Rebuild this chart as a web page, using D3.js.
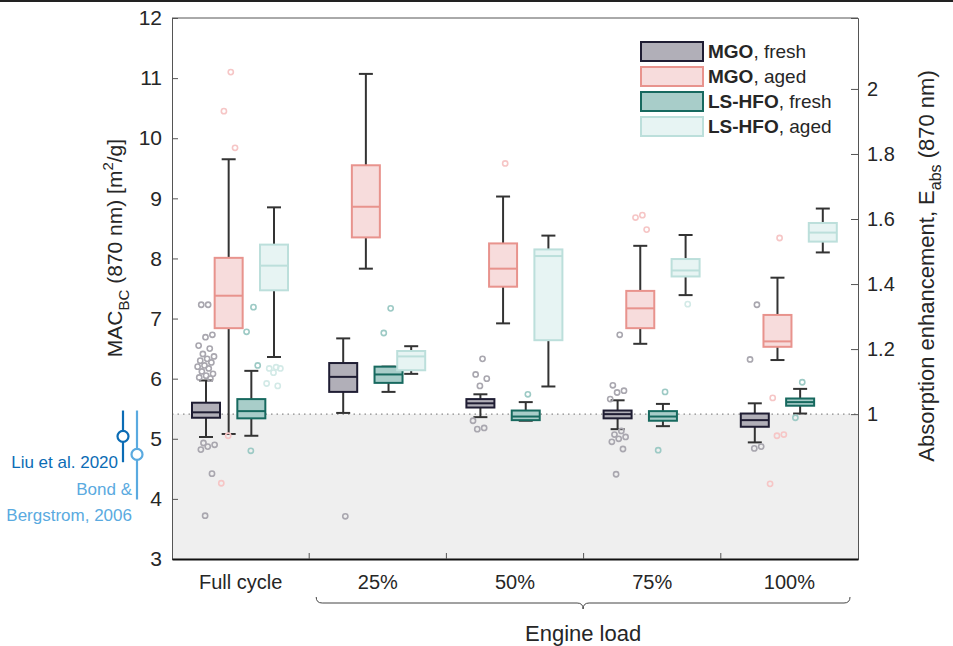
<!DOCTYPE html>
<html>
  <head>
    <style>
    body { margin: 0; background: #fff; }
    text { font-family: "Liberation Sans", Arial, sans-serif; fill: #262626; }
    </style>
  </head>
  <body>

    <svg width="953" height="646"></svg>

    <script src="https://cdn.jsdelivr.net/npm/d3@7"></script>
    <script>

      // categories
      const groups = ['Full cycle', '25%', '50%', '75%', '100%']
      const fuels = ['MGO', 'MGO', 'LS-HFO', 'LS-HFO']
      const states = ['fresh', 'aged', 'fresh', 'aged']

      // box stats per group: [whisker low, q1, median, q3, whisker high]
      const mgoFresh = [
        [5.03, 5.35, 5.44, 5.60, 5.97],
        [5.43, 5.78, 6.03, 6.26, 6.67],
        [5.36, 5.52, 5.59, 5.66, 5.74],
        [5.16, 5.34, 5.41, 5.47, 5.64],
        [4.94, 5.20, 5.31, 5.42, 5.59]
      ]
      const mgoAged = [
        [5.08, 6.84, 7.38, 8.01, 9.65],
        [7.83, 8.35, 8.86, 9.55, 11.07],
        [6.92, 7.53, 7.83, 8.25, 9.03],
        [6.58, 6.84, 7.17, 7.46, 8.21],
        [6.31, 6.53, 6.62, 7.06, 7.68]
      ]
      const hfoFresh = [
        [5.05, 5.34, 5.46, 5.66, 6.13],
        [5.78, 5.93, 6.07, 6.20, 6.20],
        [5.30, 5.31, 5.37, 5.47, 5.61],
        [5.21, 5.30, 5.37, 5.46, 5.58],
        [5.42, 5.55, 5.61, 5.67, 5.83]
      ]
      const hfoAged = [
        [6.36, 7.47, 7.88, 8.23, 8.85],
        [6.08, 6.14, 6.37, 6.46, 6.54],
        [5.87, 6.64, 8.04, 8.15, 8.38],
        [7.39, 7.70, 7.80, 7.99, 8.39],
        [8.10, 8.28, 8.43, 8.59, 8.83]
      ]

      // outliers per group
      const mgoFreshOut = [
        [7.23, 7.23, 6.73, 6.69, 6.55, 6.50, 6.41, 6.37, 6.33, 6.30, 6.27, 6.22, 6.20, 6.17, 6.12, 6.08, 6.05, 6.02, 6.00, 4.93, 4.90, 4.87, 4.82, 4.42, 3.72],
        [3.71],
        [6.33, 6.07, 6.00, 5.88, 5.30, 5.18, 5.16],
        [6.73, 5.89, 5.80, 5.77, 5.66, 5.13, 5.07, 5.03, 5.00, 4.95, 4.83, 4.41],
        [7.23, 6.32, 4.87, 4.84]
      ]
      const mgoAgedOut = [
        [11.10, 10.45, 9.84, 5.05, 4.26],
        [],
        [9.58],
        [8.72, 8.68, 8.48],
        [8.34, 5.68, 5.07, 5.05, 4.25]
      ]
      const hfoFreshOut = [
        [7.19, 6.78, 6.22, 4.80],
        [7.17, 6.76],
        [5.74],
        [5.78, 4.81],
        [5.94, 5.35]
      ]
      const hfoAgedOut = [
        [6.19, 6.17, 6.17, 6.10, 5.92, 5.88],
        [],
        [],
        [7.24],
        []
      ]

      // literature values: [low, centre, high]
      const liu2020 = [4.61, 5.04, 5.47]
      const bond2006 = [3.99, 4.74, 5.47]

      const yTicks = [3, 4, 5, 6, 7, 8, 9, 10, 11, 12]
      const eTicks = [1, 1.2, 1.4, 1.6, 1.8, 2]
      const eRef = 5.41

      const stroke = ['#1f1d33', '#e8938d', '#17695f', '#bcdfdb']
      const fill = ['#b1afb8', '#f7dcdc', '#a8cdc9', '#e7f4f3']
      const outColor = ['#a9a7af', '#f6c6c6', '#9dcac5', '#d3eae7']

      const svg = d3.select('svg')
      const margin = {top: 18, right: 95, bottom: 87, left: 172}
      const width = +svg.attr('width') - margin.left - margin.right
      const height = +svg.attr('height') - margin.top - margin.bottom

      const boxStats = [mgoFresh, mgoAged, hfoFresh, hfoAged]
      const outliers = [mgoFreshOut, mgoAgedOut, hfoFreshOut, hfoAgedOut]

      const x = d3.scaleBand().domain(groups).range([0, width])
      const inner = d3.scaleLinear().domain([0, 3]).range([34, 102])
      const y = d3.scaleLinear().domain([3, 12]).range([height, 0])
      const y2 = d3.scaleLinear().domain([3 / eRef, 12 / eRef]).range([height, 0])
      const boxW = 28

      // top rule of the page
      svg.append('line')
        .attr('x1', 0).attr('x2', 953).attr('y1', 1).attr('y2', 1)
        .attr('stroke', '#222').attr('stroke-width', 2)

      const chart = svg.append('g')
        .attr('transform', 'translate(' + margin.left + ',' + margin.top + ')')

      // shaded region below Eabs = 1
      chart.append('rect')
        .attr('x', 0).attr('y', y(eRef))
        .attr('width', width).attr('height', height - y(eRef))
        .attr('fill', '#efefef')
      chart.append('line')
        .attr('x1', 0).attr('x2', width)
        .attr('y1', y(eRef)).attr('y2', y(eRef))
        .attr('stroke', '#8a8a8a').attr('stroke-width', 1.4)
        .attr('stroke-dasharray', '1.5,4')

      // boxes
      boxStats.forEach((stats, s) => {
        groups.forEach((g, gi) => {
          const [lo, q1, med, q3, hi] = stats[gi]
          const cx = x(g) + inner(s)
          const b = chart.append('g')
          b.append('line').attr('x1', cx).attr('x2', cx).attr('y1', y(q3)).attr('y2', y(hi))
            .attr('stroke', '#333').attr('stroke-width', 2)
          b.append('line').attr('x1', cx).attr('x2', cx).attr('y1', y(q1)).attr('y2', y(lo))
            .attr('stroke', '#333').attr('stroke-width', 2)
          ;[lo, hi].forEach(v => {
            b.append('line').attr('x1', cx - boxW / 4).attr('x2', cx + boxW / 4)
              .attr('y1', y(v)).attr('y2', y(v))
              .attr('stroke', '#333').attr('stroke-width', 2)
          })
          b.append('rect')
            .attr('x', cx - boxW / 2).attr('y', y(q3))
            .attr('width', boxW).attr('height', y(q1) - y(q3))
            .attr('fill', fill[s]).attr('stroke', stroke[s]).attr('stroke-width', 2)
          b.append('line').attr('x1', cx - boxW / 2).attr('x2', cx + boxW / 2)
            .attr('y1', y(med)).attr('y2', y(med))
            .attr('stroke', stroke[s]).attr('stroke-width', 2)
        })
      })

      // outliers, small deterministic jitter
      outliers.forEach((list, s) => {
        groups.forEach((g, gi) => {
          const cx = x(g) + inner(s)
          chart.selectAll(null)
            .data(list[gi])
            .enter().append('circle')
              .attr('cx', (d, i) => cx + (((i + 1) * 0.618034) % 1 - 0.5) * 18)
              .attr('cy', d => y(d))
              .attr('r', 2.6)
              .attr('fill', 'none')
              .attr('stroke', outColor[s])
              .attr('stroke-width', 1.6)
        })
      })

      // axes
      const leftAxis = chart.append('g')
        .call(d3.axisLeft(y).tickValues(yTicks).tickSize(-6).tickPadding(10))
      leftAxis.selectAll('text').style('font-size', '21px')
      leftAxis.select('.domain').attr('stroke', '#555')
      leftAxis.selectAll('.tick line').attr('stroke', '#555')

      const rightAxis = chart.append('g')
        .attr('transform', 'translate(' + width + ',0)')
        .call(d3.axisRight(y2).tickValues(eTicks).tickFormat(d3.format('~g')).tickSize(-7).tickPadding(9))
      rightAxis.selectAll('text').style('font-size', '20px')
      rightAxis.select('.domain').attr('stroke', '#555')
      rightAxis.selectAll('.tick line').attr('stroke', '#555')

      chart.append('line')
        .attr('x1', 0).attr('x2', width).attr('y1', 0).attr('y2', 0)
        .attr('stroke', '#555').attr('stroke-width', 1)

      const bottomAxis = chart.append('g')
        .attr('transform', 'translate(0,' + height + ')')
        .call(d3.axisBottom(x).tickSize(0).tickPadding(16))
      bottomAxis.selectAll('text').style('font-size', '20px')
      bottomAxis.select('.domain').attr('stroke', '#111').attr('stroke-width', 2.2)
      groups.slice(1).forEach(g => {
        bottomAxis.append('line')
          .attr('x1', x(g)).attr('x2', x(g)).attr('y1', 0).attr('y2', -6)
          .attr('stroke', '#555')
      })

      // brace under engine loads
      const bx0 = x('25%') + 7, bx1 = width - 8, bmid = (bx0 + bx1) / 2
      const by = height + 38
      chart.append('path')
        .attr('d', 'M' + bx0 + ',' + by + ' q0,6 6,6 L' + (bmid - 6) + ',' + (by + 6) +
          ' q6,0 6,6 q0,-6 6,-6 L' + (bx1 - 6) + ',' + (by + 6) + ' q6,0 6,-6')
        .attr('fill', 'none').attr('stroke', '#444').attr('stroke-width', 1)
      chart.append('text')
        .attr('x', bmid).attr('y', height + 82)
        .attr('text-anchor', 'middle')
        .style('font-size', '22px')
        .text('Engine load')

      // axis titles
      const yl = svg.append('text')
        .attr('transform', 'translate(122,248) rotate(-90)')
        .attr('text-anchor', 'middle')
        .style('font-size', '21px')
      yl.append('tspan').text('MAC')
      yl.append('tspan').attr('dy', 7).style('font-size', '15px').text('BC')
      yl.append('tspan').attr('dy', -7).text(' (870 nm) [m')
      yl.append('tspan').attr('dy', -9).style('font-size', '15px').text('2')
      yl.append('tspan').attr('dy', 9).text('/g]')

      const yr = svg.append('text')
        .attr('transform', 'translate(934,266) rotate(-90)')
        .attr('text-anchor', 'middle')
        .style('font-size', '22px')
      yr.append('tspan').text('Absorption enhancement, E')
      yr.append('tspan').attr('dy', 7).style('font-size', '16px').text('abs')
      yr.append('tspan').attr('dy', -7).text(' (870 nm)')

      // literature reference ranges
      const refs = [
        {v: liu2020, dx: -49, color: '#0b6cb5', lines: ['Liu et al. 2020'], ty: 468},
        {v: bond2006, dx: -35, color: '#5aaae0', lines: ['Bond &', 'Bergstrom, 2006'], ty: 495}
      ]
      refs.forEach(r => {
        const cx = margin.left + r.dx
        svg.append('line')
          .attr('x1', cx).attr('x2', cx)
          .attr('y1', margin.top + y(r.v[0])).attr('y2', margin.top + y(r.v[2]))
          .attr('stroke', r.color).attr('stroke-width', 2.2)
        svg.append('circle')
          .attr('cx', cx).attr('cy', margin.top + y(r.v[1])).attr('r', 5.5)
          .attr('fill', '#fff').attr('stroke', r.color).attr('stroke-width', 2.2)
        r.lines.forEach((t, i) => {
          svg.append('text')
            .attr('x', cx - 5).attr('y', r.ty + i * 26)
            .attr('text-anchor', 'end')
            .style('font-size', '17px').style('fill', r.color)
            .text(t)
        })
      })

      // legend
      const legend = svg.append('g').attr('transform', 'translate(641,42)')
      fuels.forEach((f, i) => {
        const row = legend.append('g').attr('transform', 'translate(0,' + i * 25 + ')')
        row.append('rect')
          .attr('width', 62).attr('height', 19)
          .attr('fill', fill[i]).attr('stroke', stroke[i]).attr('stroke-width', 2)
        const t = row.append('text').attr('x', 67).attr('y', 16).style('font-size', '19px')
        t.append('tspan').style('font-weight', 'bold').text(f)
        t.append('tspan').text(', ' + states[i])
      })

    </script>
  </body>
</html>
